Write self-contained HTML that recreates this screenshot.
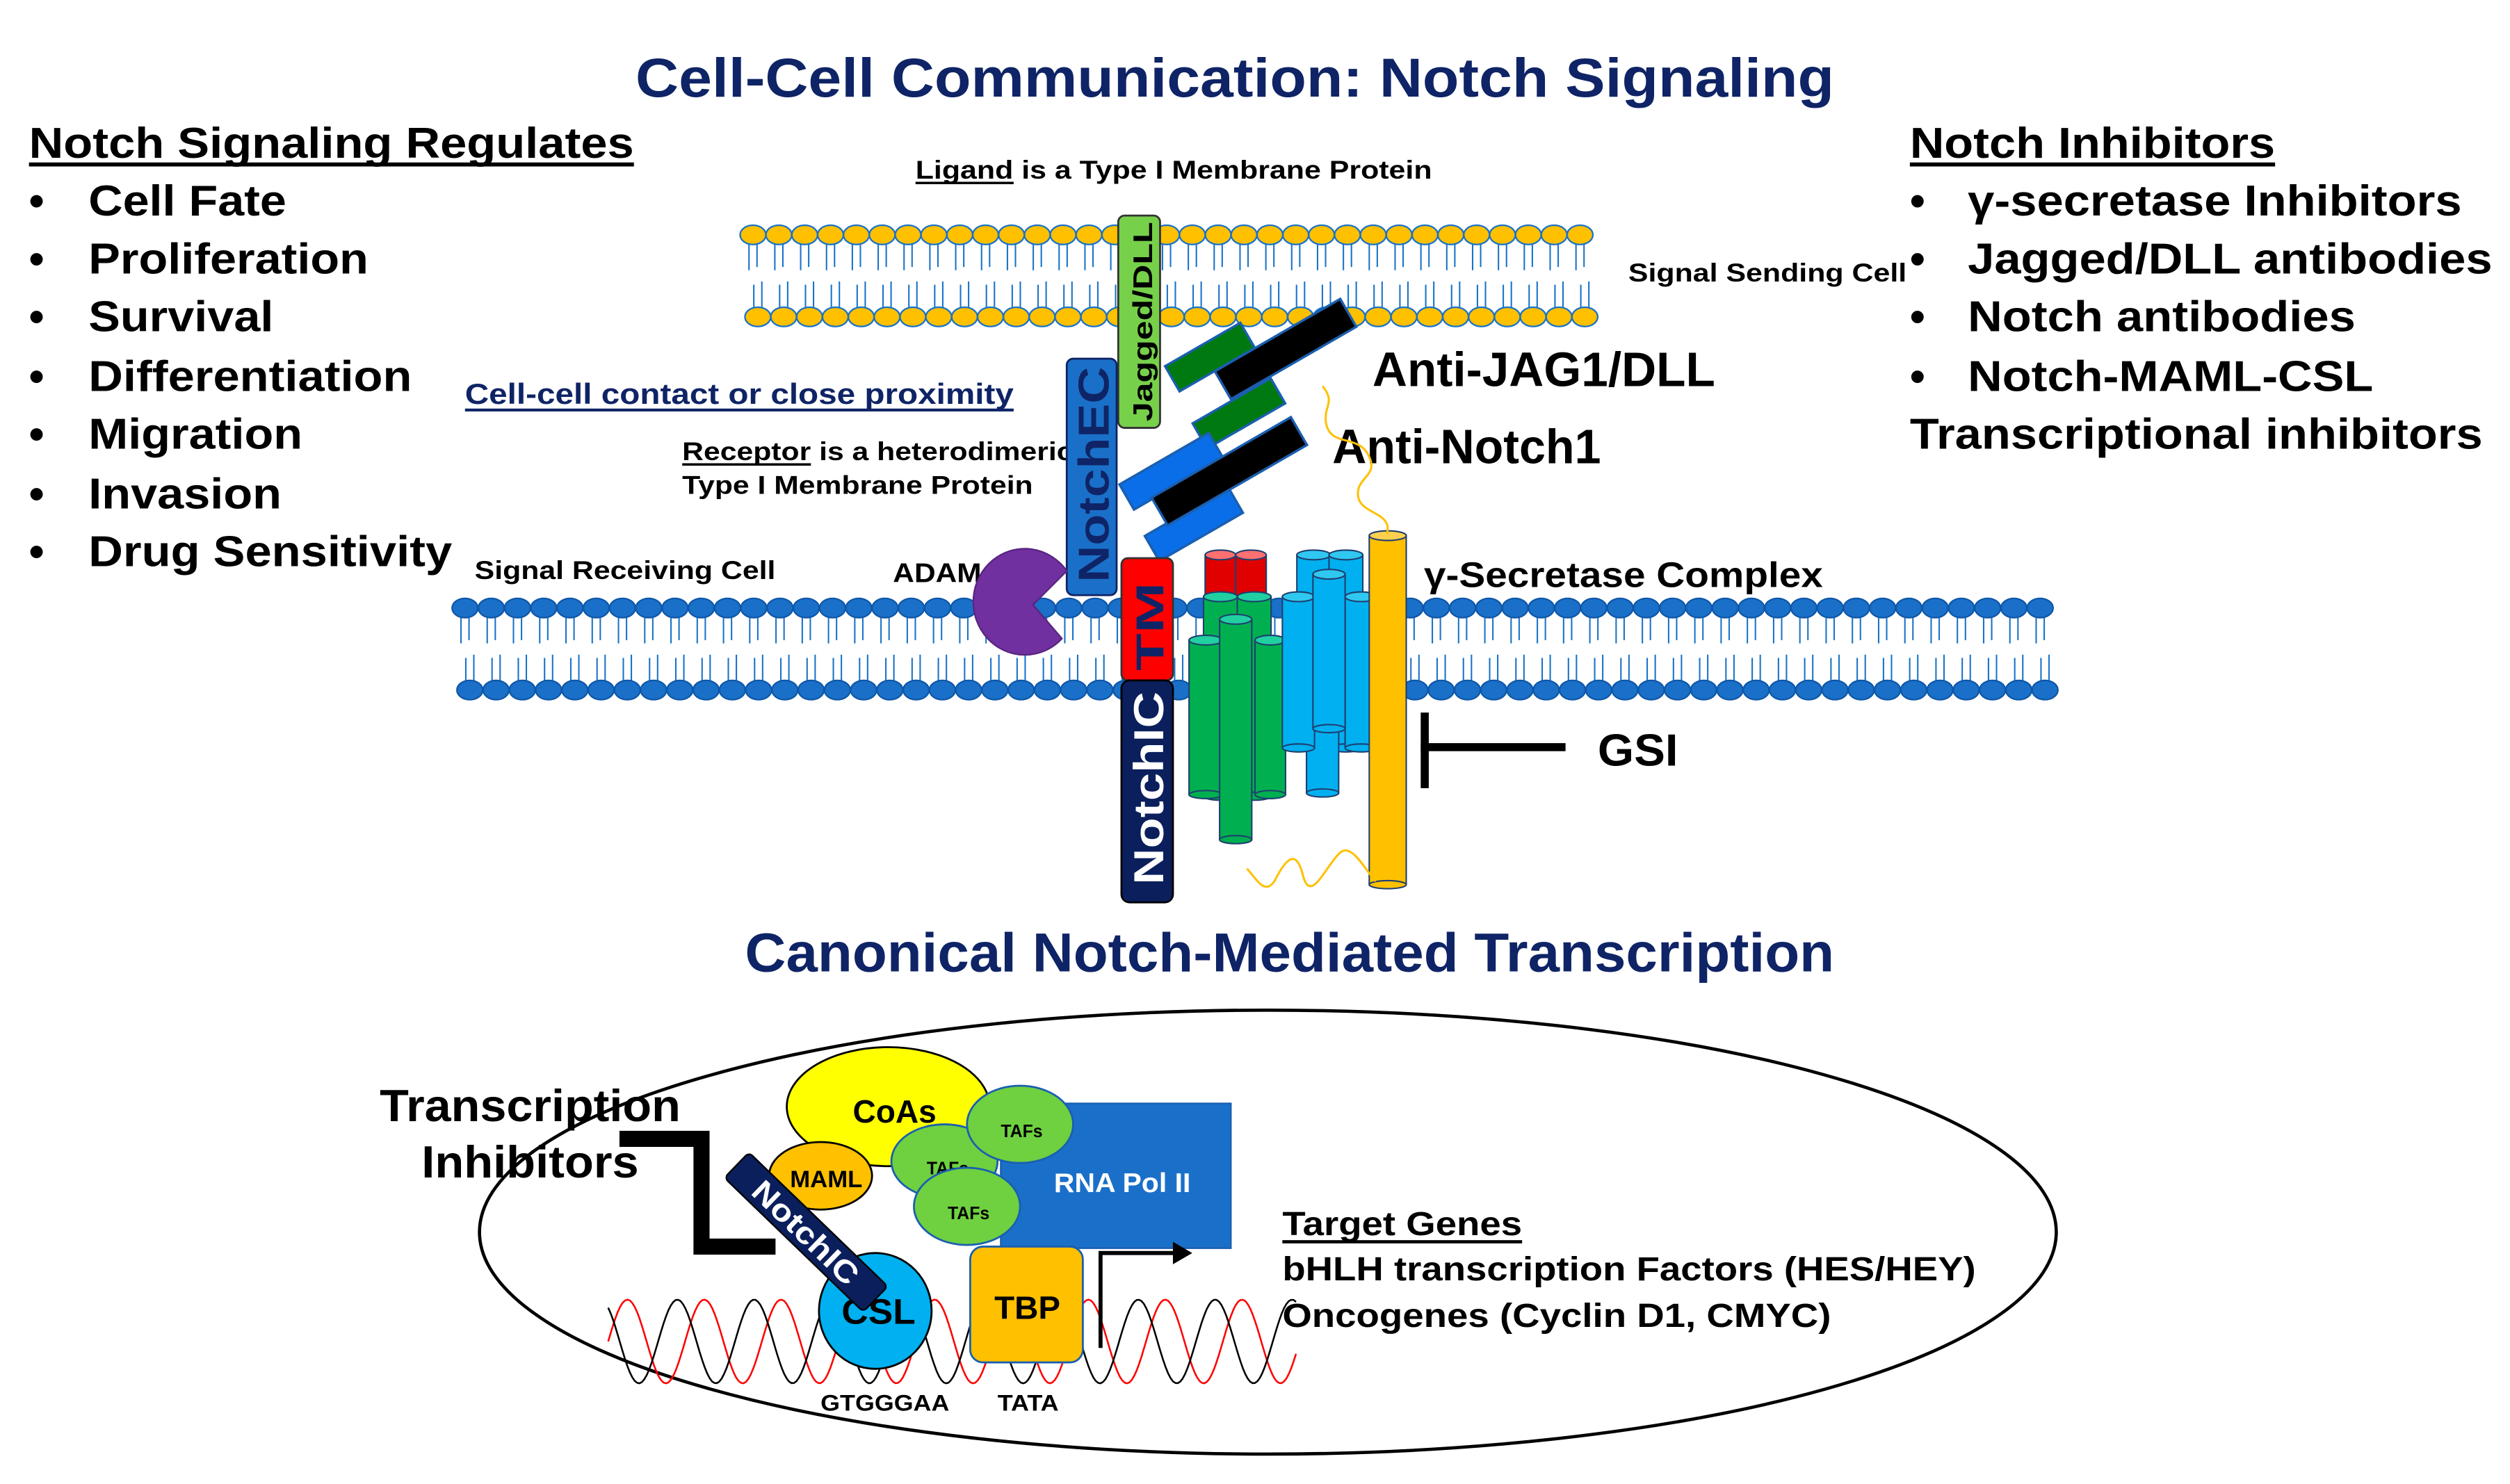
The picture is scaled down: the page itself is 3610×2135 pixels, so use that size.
<!DOCTYPE html>
<html><head><meta charset="utf-8"><style>
html,body{margin:0;padding:0;background:#fff;}
svg{display:block;}
text{font-family:"Liberation Sans",Arial,sans-serif;font-weight:bold;}
</style></head><body>
<svg id="s" width="3610" height="2135" viewBox="0 0 1560 922.6" xmlns="http://www.w3.org/2000/svg">
<g id="mem"></g>

<text x="395" y="60" font-size="34" fill="#0f2466" textLength="745" lengthAdjust="spacingAndGlyphs">Cell-Cell Communication: Notch Signaling</text>
<text x="463" y="604" font-size="34" fill="#0f2466" textLength="677" lengthAdjust="spacingAndGlyphs">Canonical Notch-Mediated Transcription</text>

<text x="18" y="98" font-size="27" textLength="376" lengthAdjust="spacingAndGlyphs">Notch Signaling Regulates</text>
<rect x="18" y="101" width="376" height="2.5" fill="#000"/>
<g font-size="27">
<text x="18" y="134">•</text><text x="55" y="134" textLength="123" lengthAdjust="spacingAndGlyphs">Cell Fate</text>
<text x="18" y="170">•</text><text x="55" y="170" textLength="174" lengthAdjust="spacingAndGlyphs">Proliferation</text>
<text x="18" y="206">•</text><text x="55" y="206" textLength="115" lengthAdjust="spacingAndGlyphs">Survival</text>
<text x="18" y="243">•</text><text x="55" y="243" textLength="201" lengthAdjust="spacingAndGlyphs">Differentiation</text>
<text x="18" y="279">•</text><text x="55" y="279" textLength="133" lengthAdjust="spacingAndGlyphs">Migration</text>
<text x="18" y="316">•</text><text x="55" y="316" textLength="120" lengthAdjust="spacingAndGlyphs">Invasion</text>
<text x="18" y="352">•</text><text x="55" y="352" textLength="226" lengthAdjust="spacingAndGlyphs">Drug Sensitivity</text>
</g>

<text x="1187" y="98" font-size="27" textLength="227" lengthAdjust="spacingAndGlyphs">Notch Inhibitors</text>
<rect x="1187" y="101" width="227" height="2.5" fill="#000"/>
<g font-size="27">
<text x="1187" y="134">•</text><text x="1223" y="134" textLength="307" lengthAdjust="spacingAndGlyphs">γ-secretase Inhibitors</text>
<text x="1187" y="170">•</text><text x="1223" y="170" textLength="326" lengthAdjust="spacingAndGlyphs">Jagged/DLL antibodies</text>
<text x="1187" y="206">•</text><text x="1223" y="206" textLength="241" lengthAdjust="spacingAndGlyphs">Notch antibodies</text>
<text x="1187" y="243">•</text><text x="1223" y="243" textLength="252" lengthAdjust="spacingAndGlyphs">Notch-MAML-CSL</text>
<text x="1187" y="279" textLength="356" lengthAdjust="spacingAndGlyphs">Transcriptional inhibitors</text>
</g>

<text x="569" y="111" font-size="16" textLength="321" lengthAdjust="spacingAndGlyphs">Ligand is a Type I Membrane Protein</text>
<rect x="569" y="113" width="61" height="1.5" fill="#000"/>
<text x="1012" y="175" font-size="16" textLength="173" lengthAdjust="spacingAndGlyphs">Signal Sending Cell</text>
<text x="289" y="251" font-size="18" fill="#0f2466" textLength="341" lengthAdjust="spacingAndGlyphs">Cell-cell contact or close proximity</text>
<rect x="289" y="254" width="341" height="1.8" fill="#0f2466"/>
<text x="424" y="286" font-size="16" textLength="243" lengthAdjust="spacingAndGlyphs">Receptor is a heterodimeric</text>
<rect x="424" y="288" width="80" height="1.5" fill="#000"/>
<text x="424" y="307" font-size="16" textLength="218" lengthAdjust="spacingAndGlyphs">Type I Membrane Protein</text>
<text x="295" y="360" font-size="16" textLength="187" lengthAdjust="spacingAndGlyphs">Signal Receiving Cell</text>
<text x="555" y="362" font-size="17" textLength="55" lengthAdjust="spacingAndGlyphs">ADAM</text>
<text x="885" y="365" font-size="22" textLength="248" lengthAdjust="spacingAndGlyphs">γ-Secretase Complex</text>
<text x="853" y="240" font-size="30" textLength="213" lengthAdjust="spacingAndGlyphs">Anti-JAG1/DLL</text>
<text x="828" y="288" font-size="30" textLength="167" lengthAdjust="spacingAndGlyphs">Anti-Notch1</text>

<rect x="883" y="443" width="5" height="47" fill="#000"/>
<rect x="883" y="462" width="90" height="5" fill="#000"/>
<text x="993" y="476" font-size="28" textLength="50" lengthAdjust="spacingAndGlyphs">GSI</text>

<rect x="695" y="134" width="26" height="132" rx="4" fill="#77d04a" stroke="#333" stroke-width="1.2"/>
<text transform="translate(716,262) rotate(-90)" font-size="17" textLength="124" lengthAdjust="spacingAndGlyphs">Jagged/DLL</text>

<rect x="663" y="223" width="31" height="147" rx="4" fill="#1a70c8" stroke="#0f2466" stroke-width="1.2"/>
<text transform="translate(689,362) rotate(-90)" font-size="27" fill="#0f2466" textLength="134" lengthAdjust="spacingAndGlyphs">NotchEC</text>

<g stroke="#1a5fb0" stroke-width="1.5">
<g transform="translate(752,222) rotate(-30)"><rect x="-27" y="-9" width="54" height="18" fill="#007a10"/></g>
<g transform="translate(770,257) rotate(-30)"><rect x="-28" y="-9" width="56" height="18" fill="#007a10"/></g>
<g transform="translate(799,217) rotate(-30)"><rect x="-45" y="-10" width="90" height="20" fill="#000"/></g>
<g transform="translate(728,293) rotate(-30)"><rect x="-32" y="-9" width="64" height="18" fill="#0a6ee8"/></g>
<g transform="translate(742,326) rotate(-30)"><rect x="-30" y="-9" width="60" height="18" fill="#0a6ee8"/></g>
<g transform="translate(764,293) rotate(-30)"><rect x="-50" y="-10" width="100" height="20" fill="#000"/></g>
</g>

<path d="M663,355 A32,33 0 1 0 660,397 L642,376 Z" fill="#7030a0" stroke="#5a2480" stroke-width="1"/>

<rect x="697" y="347" width="32" height="76" rx="4" fill="#ff0000" stroke="#333" stroke-width="1.2"/>
<text transform="translate(723,417) rotate(-90)" font-size="24" fill="#0f2466" textLength="55" lengthAdjust="spacingAndGlyphs">TM</text>
<rect x="697" y="423" width="32" height="138" rx="5" fill="#0a1f5c" stroke="#000" stroke-width="1.2"/>
<text transform="translate(723,550) rotate(-90)" font-size="26" fill="#fff" textLength="120" lengthAdjust="spacingAndGlyphs">NotchIC</text>

<g id="cyl"></g>

<path d="M862,332 C866,318 845,320 844,308 C843,296 858,296 850,282 C843,270 826,278 824,262 C823,252 830,250 822,240" fill="none" stroke="#ffc000" stroke-width="1.3"/>
<path d="M775,540 C782,548 786,556 792,548 C800,532 806,528 810,545 C815,562 824,538 833,530 C840,524 848,540 855,548" fill="none" stroke="#ffc000" stroke-width="1.3"/>

<ellipse cx="788" cy="766" rx="490" ry="138" fill="none" stroke="#000" stroke-width="2"/>
<g id="dna"></g>
<text x="236" y="697" font-size="28" textLength="187" lengthAdjust="spacingAndGlyphs">Transcription</text>
<text x="262" y="732" font-size="28" textLength="135" lengthAdjust="spacingAndGlyphs">Inhibitors</text>
<path d="M385,708 L436,708 L436,775 L482,775" fill="none" stroke="#000" stroke-width="10"/>

<ellipse cx="552" cy="688" rx="63" ry="37" fill="#ffff00" stroke="#000" stroke-width="1.2"/>
<text x="530" y="698" font-size="20" textLength="52" lengthAdjust="spacingAndGlyphs">CoAs</text>
<rect x="622" y="686" width="143" height="90" fill="#1a70c8" stroke="#1a5fb0"/>
<text x="655" y="741" font-size="17" fill="#fff" textLength="85" lengthAdjust="spacingAndGlyphs">RNA Pol II</text>
<ellipse cx="587" cy="722" rx="33" ry="23" fill="#6fd040" stroke="#1a5fb0" stroke-width="1.2"/>
<text x="576" y="730" font-size="11" textLength="26" lengthAdjust="spacingAndGlyphs">TAFs</text>
<ellipse cx="634" cy="699" rx="33" ry="24" fill="#6fd040" stroke="#1a5fb0" stroke-width="1.2"/>
<text x="622" y="707" font-size="11" textLength="26" lengthAdjust="spacingAndGlyphs">TAFs</text>
<ellipse cx="601" cy="750" rx="33" ry="24" fill="#6fd040" stroke="#1a5fb0" stroke-width="1.2"/>
<text x="589" y="758" font-size="11" textLength="26" lengthAdjust="spacingAndGlyphs">TAFs</text>
<ellipse cx="510" cy="731" rx="32" ry="21" fill="#ffc000" stroke="#000" stroke-width="1.2"/>
<text x="491" y="738" font-size="15" textLength="45" lengthAdjust="spacingAndGlyphs">MAML</text>
<ellipse cx="544" cy="815" rx="35" ry="36" fill="#00b0f0" stroke="#000" stroke-width="1.2"/>
<text x="523" y="823" font-size="22" textLength="46" lengthAdjust="spacingAndGlyphs">CSL</text>
<g transform="translate(501,766) rotate(44)">
<rect x="-60" y="-11" width="120" height="22" rx="3" fill="#0a1f5c" stroke="#000"/>
<text x="-42" y="7" font-size="19" fill="#fff" textLength="84" lengthAdjust="spacingAndGlyphs">NotchIC</text>
</g>
<rect x="603" y="775" width="70" height="72" rx="8" fill="#ffc000" stroke="#1a5fb0" stroke-width="1.2"/>
<text x="618" y="820" font-size="20" textLength="41" lengthAdjust="spacingAndGlyphs">TBP</text>
<path d="M684,838 L684,779 L730,779" fill="none" stroke="#000" stroke-width="2.5"/>
<path d="M729,772 L741,779 L729,786 Z" fill="#000"/>
<text x="510" y="877" font-size="14" textLength="80" lengthAdjust="spacingAndGlyphs">GTGGGAA</text>
<text x="620" y="877" font-size="14" textLength="38" lengthAdjust="spacingAndGlyphs">TATA</text>
<text x="797" y="768" font-size="21" textLength="149" lengthAdjust="spacingAndGlyphs">Target Genes</text>
<rect x="797" y="771" width="149" height="2" fill="#000"/>
<text x="797" y="796" font-size="21" textLength="431" lengthAdjust="spacingAndGlyphs">bHLH transcription Factors (HES/HEY)</text>
<text x="797" y="825" font-size="21" textLength="341" lengthAdjust="spacingAndGlyphs">Oncogenes (Cyclin D1, CMYC)</text>
</svg>
<script>
var NS="http://www.w3.org/2000/svg";
function el(p,t,a){var e=document.createElementNS(NS,t);for(var k in a)e.setAttribute(k,a[k]);p.appendChild(e);return e;}
var mem=document.getElementById('mem');
function membrane(x0,x1,y1,y2,fill,stroke){
  var n=Math.round((x1-x0)/16.3);var sp=(x1-x0)/n;
  for(var i=0;i<=n;i++){var x=x0+i*sp;
    el(mem,'line',{x1:x-2.5,y1:y1,x2:x-2.5,y2:y1+22,stroke:'#1a73c8','stroke-width':0.9});
    el(mem,'line',{x1:x+2.5,y1:y1,x2:x+2.5,y2:y1+20,stroke:'#1a73c8','stroke-width':0.9});
    el(mem,'line',{x1:x+0.5,y1:y2,x2:x+0.5,y2:y2-20,stroke:'#1a73c8','stroke-width':0.9});
    el(mem,'line',{x1:x+5.5,y1:y2,x2:x+5.5,y2:y2-22,stroke:'#1a73c8','stroke-width':0.9});
  }
  for(var i=0;i<=n;i++){var x=x0+i*sp;
    el(mem,'ellipse',{cx:x,cy:y1,rx:8,ry:6,fill:fill,stroke:stroke,'stroke-width':1});
    el(mem,'ellipse',{cx:x+3,cy:y2,rx:8,ry:6,fill:fill,stroke:stroke,'stroke-width':1});
  }
}
membrane(468,982,146,197,'#ffc000','#1a73c8');
membrane(289,1268,378,429,'#1a70c8','#0f57a8');
var cyl=document.getElementById('cyl');
function cy(x,w,t,b,f,c){
  el(cyl,'rect',{x:x,y:t,width:w,height:b-t,fill:f,stroke:'#1f3f6f','stroke-width':0.9});
  el(cyl,'ellipse',{cx:x+w/2,cy:b,rx:w/2,ry:2.5,fill:f,stroke:'#1f3f6f','stroke-width':0.9});
  el(cyl,'ellipse',{cx:x+w/2,cy:t,rx:w/2,ry:3,fill:c,stroke:'#1f3f6f','stroke-width':0.9});
}
cy(749,19,345,376,'#e00000','#ff7070');cy(768,19,345,376,'#e00000','#ff7070');
cy(748,21,371,495,'#00b050','#20d0a0');cy(769,21,371,495,'#00b050','#20d0a0');
cy(739,21,398,494,'#00b050','#20d0a0');cy(780,19,398,494,'#00b050','#20d0a0');
cy(758,20,385,522,'#00b050','#20d0a0');
cy(806,21,345,465,'#00b0f0','#30c8f0');cy(826,21,345,465,'#00b0f0','#30c8f0');
cy(812,20,400,493,'#00b0f0','#30c8f0');
cy(797,20,371,465,'#00b0f0','#30c8f0');cy(836,20,371,465,'#00b0f0','#30c8f0');
cy(816,20,357,453,'#00b0f0','#30c8f0');
cy(851,23,333,550,'#ffc000','#ffd050');
var dna=document.getElementById('dna');
function wave(ph,col){var d='';for(var x=378;x<=806;x+=1.5){var y=834-26*Math.sin((x-378)/7.6+ph);d+=(x==378?'M':'L')+x+','+y.toFixed(1);}el(dna,'path',{d:d,fill:'none',stroke:col,'stroke-width':1.1});}
wave(0,'#ff0000');wave(2.2,'#000');
</script>
</body></html>
